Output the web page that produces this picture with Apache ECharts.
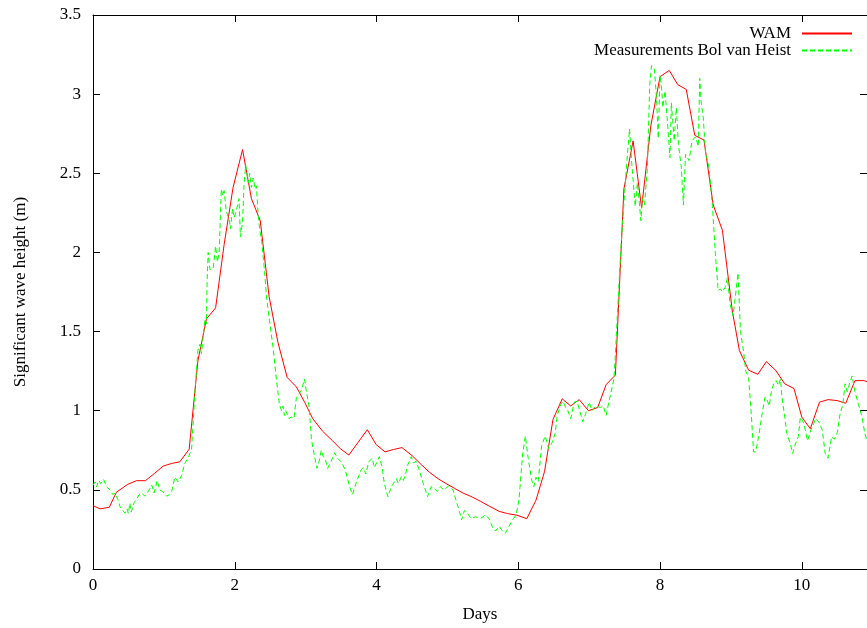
<!DOCTYPE html>
<html>
<head>
<meta charset="utf-8">
<script src="https://cdn.jsdelivr.net/npm/echarts@6/dist/echarts.min.js"></script>
<style>
html,body{margin:0;padding:0;background:#fff;overflow:hidden;}
#chart{width:867px;height:628px;}
</style>
</head>
<body>
<div id="chart"></div>
<script>
const seriesNames = ['WAM', 'Measurements Bol van Heist'];
const xTickLabels = ['0', '2', '4', '6', '8', '10'];

const wamDays = [0,0.10,0.23,0.33,0.49,0.615,0.74,0.87,0.99,1.11,1.225,1.357,1.48,1.6,1.73,1.85,1.976,2.11,2.235,2.36,2.485,2.61,2.74,2.87,2.99,3.1,3.24,3.38,3.49,3.61,3.74,3.87,3.995,4.12,4.24,4.36,4.51,4.63,4.75,4.87,4.98,5.1,5.22,5.35,5.47,5.6,5.73,5.85,5.98,6.12,6.25,6.37,6.49,6.62,6.74,6.86,6.99,7.12,7.24,7.37,7.49,7.62,7.74,7.87,8.0,8.13,8.25,8.37,8.49,8.62,8.75,8.88,9.02,9.12,9.25,9.38,9.5,9.63,9.76,9.89,10.0,10.12,10.25,10.37,10.5,10.62,10.75,10.88,11.0];
const wamHeights = [0.40,0.38,0.39,0.485,0.535,0.558,0.558,0.605,0.65,0.667,0.677,0.757,1.315,1.58,1.65,2.05,2.41,2.65,2.34,2.2,1.72,1.43,1.21,1.15,1.05,0.95,0.87,0.81,0.76,0.72,0.80,0.88,0.786,0.74,0.755,0.767,0.713,0.66,0.61,0.57,0.54,0.51,0.48,0.455,0.427,0.395,0.364,0.35,0.34,0.318,0.435,0.615,0.945,1.075,1.03,1.07,1.0,1.02,1.165,1.225,2.4,2.705,2.28,2.80,3.11,3.15,3.06,3.03,2.74,2.71,2.30,2.14,1.63,1.38,1.256,1.23,1.31,1.256,1.17,1.14,0.96,0.886,1.054,1.07,1.064,1.047,1.19,1.19,1.17];

const obsDays = [0.00,0.03,0.05,0.08,0.11,0.15,0.19,0.24,0.28,0.31,0.35,0.38,0.42,0.45,0.48,0.50,0.52,0.54,0.58,0.615,0.65,0.686,0.73,0.78,0.80,0.83,0.86,0.88,0.905,0.94,0.98,1.04,1.08,1.11,1.155,1.20,1.25,1.295,1.34,1.366,1.39,1.44,1.48,1.51,1.53,1.58,1.60,1.61,1.625,1.65,1.695,1.73,1.755,1.78,1.81,1.83,1.85,1.88,1.92,1.94,1.97,1.99,2.02,2.06,2.08,2.11,2.13,2.155,2.19,2.21,2.235,2.26,2.29,2.305,2.33,2.35,2.38,2.42,2.45,2.49,2.54,2.59,2.63,2.66,2.68,2.70,2.72,2.765,2.80,2.835,2.87,2.90,2.94,2.96,2.985,3.00,3.05,3.08,3.10,3.16,3.19,3.22,3.25,3.28,3.31,3.36,3.41,3.45,3.50,3.56,3.62,3.66,3.71,3.78,3.81,3.85,3.89,3.94,3.97,4.04,4.08,4.11,4.16,4.21,4.28,4.31,4.35,4.38,4.41,4.44,4.49,4.52,4.56,4.60,4.66,4.72,4.77,4.81,4.86,4.90,4.95,5.02,5.08,5.12,5.17,5.20,5.24,5.28,5.33,5.40,5.47,5.54,5.59,5.64,5.68,5.73,5.78,5.82,5.87,5.92,5.97,6.01,6.06,6.10,6.14,6.19,6.22,6.25,6.28,6.33,6.38,6.43,6.48,6.52,6.55,6.60,6.63,6.67,6.70,6.74,6.79,6.83,6.86,6.91,6.95,7.00,7.04,7.09,7.16,7.20,7.24,7.28,7.33,7.35,7.375,7.40,7.45,7.49,7.54,7.57,7.60,7.65,7.68,7.70,7.73,7.75,7.78,7.82,7.855,7.88,7.92,7.95,7.975,8.00,8.02,8.04,8.07,8.10,8.14,8.16,8.20,8.23,8.26,8.30,8.33,8.36,8.41,8.45,8.50,8.54,8.56,8.58,8.61,8.64,8.69,8.74,8.78,8.82,8.85,8.88,8.92,8.95,8.99,9.03,9.07,9.10,9.135,9.18,9.21,9.25,9.29,9.32,9.35,9.39,9.44,9.48,9.51,9.54,9.57,9.61,9.64,9.67,9.70,9.72,9.76,9.79,9.84,9.87,9.91,9.95,9.98,10.03,10.08,10.13,10.17,10.19,10.24,10.29,10.33,10.37,10.42,10.46,10.50,10.54,10.58,10.61,10.64,10.68,10.71,10.75,10.80,10.85,10.89,10.93];
const obsHeights = [0.53,0.55,0.52,0.56,0.54,0.565,0.52,0.50,0.47,0.48,0.44,0.395,0.37,0.353,0.38,0.35,0.416,0.36,0.42,0.44,0.47,0.48,0.46,0.49,0.50,0.53,0.48,0.51,0.56,0.50,0.49,0.46,0.47,0.49,0.58,0.55,0.59,0.667,0.70,0.73,0.75,1.13,1.38,1.42,1.36,1.58,1.55,1.82,2.00,1.89,1.90,2.04,1.94,2.0,2.40,2.36,2.39,2.26,2.21,2.15,2.28,2.22,2.26,2.34,2.10,2.19,2.42,2.55,2.44,2.50,2.41,2.47,2.40,2.42,2.24,2.15,2.07,1.88,1.71,1.57,1.40,1.19,1.04,1.00,1.03,0.97,1.00,0.95,0.96,0.95,1.085,1.10,1.13,1.16,1.20,1.15,1.02,0.83,0.77,0.636,0.68,0.75,0.71,0.69,0.636,0.68,0.734,0.70,0.677,0.625,0.52,0.47,0.54,0.625,0.64,0.60,0.677,0.70,0.64,0.71,0.64,0.54,0.457,0.52,0.57,0.54,0.583,0.56,0.60,0.656,0.71,0.67,0.68,0.63,0.54,0.457,0.52,0.51,0.49,0.52,0.50,0.525,0.50,0.437,0.364,0.31,0.37,0.355,0.32,0.33,0.32,0.343,0.316,0.26,0.24,0.27,0.238,0.227,0.27,0.31,0.343,0.437,0.72,0.84,0.70,0.56,0.52,0.58,0.55,0.78,0.84,0.76,0.80,0.855,0.97,1.04,1.06,1.02,1.00,0.95,1.054,1.06,1.01,0.93,0.98,1.054,1.00,1.03,1.02,1.03,0.97,1.06,1.16,1.20,1.40,1.62,2.04,2.31,2.62,2.78,2.57,2.29,2.44,2.35,2.20,2.34,2.30,2.52,3.06,3.18,3.16,2.98,2.72,3.12,3.05,2.915,3.02,2.85,2.60,2.945,2.705,2.915,2.68,2.54,2.30,2.62,2.58,2.705,2.73,2.67,3.10,2.95,2.85,2.64,2.54,2.29,1.995,1.76,1.77,1.75,1.78,1.84,1.67,1.60,1.75,1.87,1.50,1.37,1.25,1.21,0.96,0.74,0.74,0.835,0.98,1.085,1.07,1.03,1.12,1.18,1.19,1.16,1.20,1.085,0.96,0.855,0.79,0.73,0.79,0.835,0.96,0.92,0.81,0.88,0.92,0.95,0.93,0.877,0.73,0.70,0.835,0.82,0.86,0.98,1.04,1.17,1.12,1.18,1.22,1.12,1.04,0.96,0.855,0.80];

const wamData = wamDays.map((d, i) => [d, wamHeights[i]]);
const obsData = obsDays.map((d, i) => [d, obsHeights[i]]);

const FONT = 'Liberation Serif';
const FS = 17;
const chart = echarts.init(document.getElementById('chart'), null, {renderer: 'canvas', width: 867, height: 628});

const axisLineStyle = {color: '#000', width: 1};
const xMax = 10.92;

function legendFor(name, top) {
  return {
    data: [name], right: 14, top: top, orient: 'vertical', align: 'right',
    itemWidth: 50, itemHeight: 14, itemGap: 3, padding: 0,
    itemStyle: {opacity: 0},
    textStyle: {fontFamily: FONT, fontSize: FS, color: '#000', padding: [0, 6, 0, 0]}
  };
}

chart.setOption({
  animation: false,
  backgroundColor: '#fff',
  textStyle: {fontFamily: FONT, color: '#000'},
  grid: {left: 93, top: 15, width: 775, height: 558, containLabel: false},
  legend: [legendFor(seriesNames[0], 25), legendFor(seriesNames[1], 42)],
  xAxis: [
    {
      type: 'value', min: 0, max: xMax, interval: 2,
      name: 'Days', nameLocation: 'middle', nameGap: 37,
      nameTextStyle: {fontFamily: FONT, fontSize: FS, color: '#000'},
      axisLine: {show: true, onZero: false, lineStyle: axisLineStyle},
      axisTick: {show: true, inside: true, length: 7, lineStyle: axisLineStyle},
      axisLabel: {
        fontFamily: FONT, fontSize: FS, color: '#000', margin: 8, showMaxLabel: false,
        formatter: v => (Math.abs(v / 2 - Math.round(v / 2)) < 1e-6 ? xTickLabels[Math.round(v / 2)] : '')
      },
      splitLine: {show: false}
    },
    {
      type: 'value', min: 0, max: xMax, interval: 2, position: 'top',
      axisLine: {show: true, onZero: false, lineStyle: axisLineStyle},
      axisTick: {show: true, inside: true, length: 7, lineStyle: axisLineStyle},
      axisLabel: {show: false},
      splitLine: {show: false}
    }
  ],
  yAxis: [
    {
      type: 'value', min: 0, max: 3.5, interval: 0.5,
      name: 'Significant wave height (m)', nameLocation: 'middle', nameGap: 64, nameRotate: 90,
      nameTextStyle: {fontFamily: FONT, fontSize: FS, color: '#000'},
      axisLine: {show: true, onZero: false, lineStyle: axisLineStyle},
      axisTick: {show: true, inside: true, length: 7, lineStyle: axisLineStyle},
      axisLabel: {fontFamily: FONT, fontSize: FS, color: '#000', margin: 12},
      splitLine: {show: false}
    },
    {
      type: 'value', min: 0, max: 3.5, interval: 0.5, position: 'right',
      axisLine: {show: true, onZero: false, lineStyle: axisLineStyle},
      axisTick: {show: true, inside: true, length: 7, lineStyle: axisLineStyle},
      axisLabel: {show: false},
      splitLine: {show: false}
    }
  ],
  series: [
    {
      name: seriesNames[0], type: 'line', data: wamData,
      showSymbol: false, symbol: 'none', clip: true,
      lineStyle: {color: '#ff0000', width: 1},
      itemStyle: {color: '#ff0000'}
    },
    {
      name: seriesNames[1], type: 'line', data: obsData,
      showSymbol: false, symbol: 'none', clip: true,
      lineStyle: {color: '#00ff00', width: 1, type: [5, 3]},
      itemStyle: {color: '#00ff00'}
    }
  ]
});
</script>
</body>
</html>
